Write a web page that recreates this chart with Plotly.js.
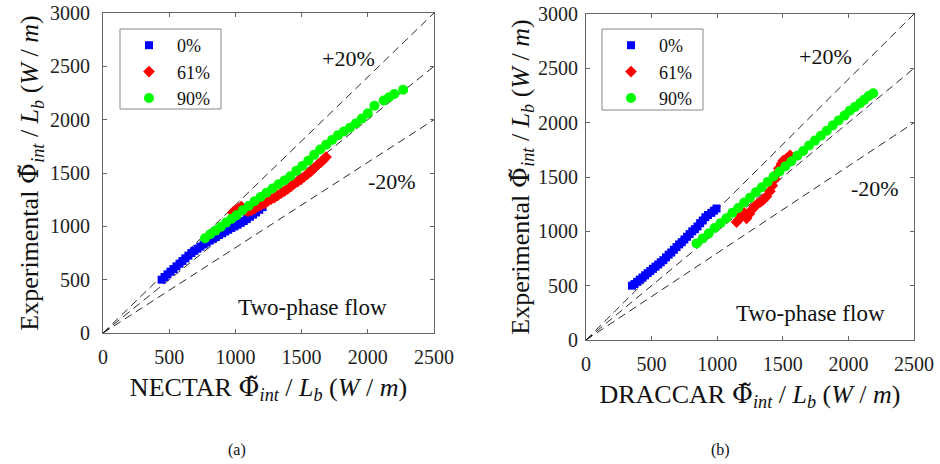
<!DOCTYPE html>
<html>
<head>
<meta charset="utf-8">
<script src="https://cdn.plot.ly/plotly-3.0.1.min.js"></script>
<style>html,body{margin:0;padding:0;background:#fff;}#chart{width:940px;height:464px;}</style>
</head>
<body>
<div id="chart"></div>
<script>
// ---- data (a) NECTAR ----
const seriesNames = ['0%', '61%', '90%'];
const nectarBlueX = [443, 465, 487, 510, 532, 555, 578, 600, 622, 645, 668, 690, 713, 736, 760, 783, 806, 830, 853, 876, 900, 923, 946, 970, 993, 1016, 1040, 1063, 1086, 1110, 1133, 1156, 1180, 1205];
const nectarBlueY = [500, 525, 550, 575, 600, 625, 650, 675, 700, 725, 750, 770, 790, 810, 830, 848, 866, 884, 900, 918, 935, 952, 968, 985, 1000, 1015, 1032, 1050, 1068, 1090, 1110, 1130, 1155, 1180];
const nectarRedX = [980, 1000, 1020, 1045, 1070, 1095, 1120, 1145, 1170, 1195, 1220, 1245, 1270, 1295, 1320, 1345, 1370, 1395, 1420, 1445, 1470, 1495, 1520, 1545, 1570, 1595, 1620, 1645, 1665, 1685];
const nectarRedY = [1130, 1150, 1165, 1185, 1150, 1140, 1150, 1165, 1185, 1200, 1215, 1235, 1255, 1270, 1290, 1310, 1330, 1350, 1375, 1400, 1420, 1440, 1465, 1490, 1515, 1545, 1575, 1600, 1625, 1650];
const nectarGreenX = [770, 810, 850, 890, 930, 970, 1010, 1055, 1100, 1145, 1190, 1235, 1280, 1325, 1370, 1415, 1460, 1505, 1550, 1595, 1640, 1685, 1730, 1775, 1820, 1865, 1910, 1955, 2000, 2050, 2120, 2160, 2200, 2267];
const nectarGreenY = [888, 925, 960, 995, 1035, 1070, 1105, 1150, 1190, 1235, 1275, 1315, 1355, 1395, 1430, 1470, 1520, 1565, 1615, 1670, 1720, 1765, 1810, 1855, 1890, 1925, 1965, 2010, 2060, 2130, 2180, 2210, 2240, 2280];

// ---- data (b) DRACCAR ----
const draccarBlueX = [350, 370, 390, 410, 430, 450, 470, 490, 510, 530, 550, 570, 590, 610, 630, 650, 670, 690, 710, 730, 750, 770, 790, 810, 830, 850, 870, 890, 910, 930, 955, 975, 995];
const draccarBlueY = [500, 515, 535, 555, 575, 595, 615, 635, 655, 675, 695, 715, 735, 760, 785, 805, 830, 855, 880, 900, 925, 950, 975, 1000, 1020, 1045, 1075, 1100, 1130, 1150, 1170, 1190, 1210];
const draccarRedX = [1148, 1165, 1185, 1205, 1224, 1245, 1265, 1285, 1305, 1330, 1351, 1375, 1402, 1420, 1440, 1453, 1470, 1490, 1503, 1530, 1555];
const draccarRedY = [1085, 1110, 1150, 1170, 1120, 1160, 1200, 1230, 1250, 1270, 1290, 1320, 1370, 1420, 1480, 1530, 1580, 1620, 1650, 1670, 1700];
const draccarGreenX = [843, 890, 935, 980, 1025, 1070, 1115, 1160, 1205, 1250, 1295, 1340, 1385, 1430, 1475, 1520, 1565, 1610, 1655, 1700, 1745, 1790, 1835, 1880, 1925, 1970, 2010, 2050, 2090, 2120, 2155, 2189];
const draccarGreenY = [889, 935, 980, 1030, 1075, 1120, 1170, 1215, 1265, 1310, 1360, 1405, 1455, 1505, 1550, 1600, 1645, 1695, 1740, 1790, 1835, 1880, 1925, 1975, 2020, 2065, 2110, 2145, 2180, 2210, 2245, 2270];

// reference lines y = k*x
const refX = [0, 2500];
const refFactors = [1.2, 1.0, 0.8];

const xTickVals = [0, 500, 1000, 1500, 2000, 2500];
const yTickVals = [0, 500, 1000, 1500, 2000, 2500, 3000];

const colors = ['#0000ff', '#ff0000', '#00ff00'];
const symbols = ['square', 'diamond', 'circle'];
const sizes = [8, 9, 10];

const SERIF = 'Liberation Serif';

function refTraces(xa, ya) {
  return refFactors.map(k => ({
    x: refX, y: refX.map(v => v * k), xaxis: xa, yaxis: ya,
    mode: 'lines', line: {color: '#111', width: 0.9, dash: '8px,5px'},
    showlegend: false, hoverinfo: 'skip'
  }));
}
function markerTrace(x, y, i, xa, ya, leg) {
  return {
    x: x, y: y, xaxis: xa, yaxis: ya, mode: 'markers', name: seriesNames[i],
    legend: leg,
    marker: {color: colors[i], symbol: symbols[i], size: sizes[i], line: {width: 0}}
  };
}

const data = [
  ...refTraces('x', 'y'),
  markerTrace(nectarBlueX, nectarBlueY, 0, 'x', 'y', 'legend'),
  markerTrace(nectarRedX, nectarRedY, 1, 'x', 'y', 'legend'),
  markerTrace(nectarGreenX, nectarGreenY, 2, 'x', 'y', 'legend'),
  ...refTraces('x2', 'y2'),
  markerTrace(draccarBlueX, draccarBlueY, 0, 'x2', 'y2', 'legend2'),
  markerTrace(draccarRedX, draccarRedY, 1, 'x2', 'y2', 'legend2'),
  markerTrace(draccarGreenX, draccarGreenY, 2, 'x2', 'y2', 'legend2')
];

const phi = '<span style="font-family:DejaVu Serif">Φ̃</span><sub><i>int</i></sub> / <i>L</i><sub><i>b</i></sub> (<i>W</i> / <i>m</i>)';

function xAxis(domain, title, anchor) {
  return {
    domain: domain, anchor: anchor, range: [0, 2500], tickvals: xTickVals,
    ticks: 'inside', ticklen: 4, tickcolor: '#666', showline: true, linecolor: '#666', linewidth: 1,
    mirror: 'ticks', showgrid: false, zeroline: false, ticklabelstandoff: 6,
    tickfont: {family: SERIF, size: 20, color: '#222'},
    title: {text: title, font: {family: SERIF, size: 26, color: '#111'}, standoff: 10}
  };
}
function yAxis(domain, anchor, labelGap, titleGap) {
  return {
    domain: domain, anchor: anchor, range: [0, 3000], tickvals: yTickVals,
    ticks: 'inside', ticklen: 4, tickcolor: '#666', showline: true, linecolor: '#666', linewidth: 1,
    mirror: 'ticks', showgrid: false, zeroline: false, ticklabelstandoff: labelGap,
    tickfont: {family: SERIF, size: 20, color: '#222'},
    title: {text: 'Experimental ' + phi, font: {family: SERIF, size: 26, color: '#111'}, standoff: titleGap}
  };
}

function legendCfg(x) {
  return {
    x: x, y: 1 - 27 / 464, xanchor: 'left', yanchor: 'top', xref: 'paper', yref: 'paper',
    bgcolor: 'rgba(0,0,0,0)', borderwidth: 0, itemwidth: 46,
    font: {family: SERIF, size: 18, color: '#111'}, tracegroupgap: 0
  };
}

const frame = (x0, y0, x1, y1) => ({
  type: 'rect', xref: 'paper', yref: 'paper', x0: x0 / 940, x1: x1 / 940, y0: 1 - y1 / 464, y1: 1 - y0 / 464,
  line: {color: '#888', width: 1}, fillcolor: '#fff', layer: 'above'
});

const ann = (x, y, text, size) => ({
  xref: 'paper', yref: 'paper', x: x / 940, y: 1 - y / 464, text: text, showarrow: false,
  xanchor: 'center', yanchor: 'middle', font: {family: SERIF, size: size, color: '#111'}
});

const layout = {
  width: 940, height: 464, margin: {l: 0, r: 0, t: 0, b: 0},
  paper_bgcolor: '#fff', plot_bgcolor: '#fff',
  font: {family: SERIF},
  xaxis: xAxis([103 / 940, 434 / 940], 'NECTAR ' + phi, 'y'),
  yaxis: yAxis([1 - 333 / 464, 1 - 13 / 464], 'x', 8, 3),
  xaxis2: xAxis([586 / 940, 914 / 940], 'DRACCAR ' + phi, 'y2'),
  yaxis2: yAxis([1 - 340 / 464, 1 - 14 / 464], 'x2', 3, 0),
  legend: legendCfg(121 / 940),
  legend2: legendCfg(603 / 940),
  shapes: [frame(120, 29, 221, 109), frame(602, 29, 703, 110)],
  annotations: [
    ann(348, 58, '+20%', 22), ann(392, 182, '-20%', 22), ann(312, 307, 'Two-phase flow', 23),
    ann(825, 56, '+20%', 22), ann(875, 188, '-20%', 22), ann(810, 313, 'Two-phase flow', 23),
    ann(237, 450, '(a)', 16), ann(720, 450, '(b)', 16)
  ]
};

Plotly.newPlot('chart', data, layout, {displayModeBar: false, staticPlot: true});
</script>
</body>
</html>
